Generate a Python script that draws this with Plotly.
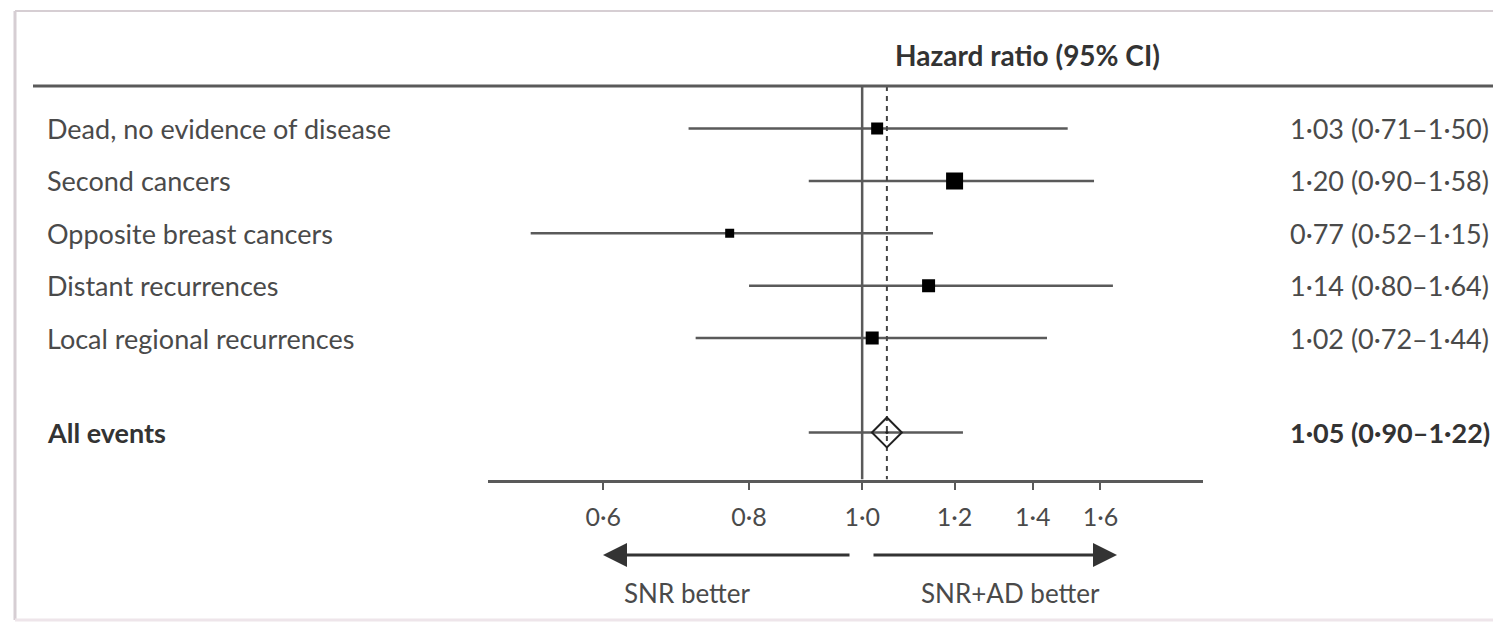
import math
import plotly.graph_objects as go

# --- datos del forest plot ---
outcomes = ["Dead, no evidence of disease", "Second cancers", "Opposite breast cancers",
            "Distant recurrences", "Local regional recurrences"]
hr = [1.03, 1.20, 0.77, 1.14, 1.02]
ci_low = [0.71, 0.90, 0.52, 0.80, 0.72]
ci_high = [1.50, 1.58, 1.15, 1.64, 1.44]
box_size = [12, 17, 9, 13, 13]

overall_label = "All events"
overall_hr = 1.05
overall_low = 0.90
overall_high = 1.22

tick_vals = [0.6, 0.8, 1.0, 1.2, 1.4, 1.6]
tick_text = ["0·6", "0·8", "1·0", "1·2", "1·4", "1·6"]

W, H = 1493, 626
FONT = "Lato"
TXT = "#4a4a4a"
LINE = "#5a5a5a"

row_y = [0, 1, 2, 3, 4]
overall_y = 5.8
y_top, y_bottom = -0.811, 6.698


def fmt(v):
    return f"{v:.2f}".replace(".", "·")


def px(x):
    return x / W


def py(y):
    return 1 - y / H


fig = go.Figure()

# --- intervalos de confianza ---
seg_x, seg_y = [], []
for lo, hi, y in zip(ci_low + [overall_low], ci_high + [overall_high], row_y + [overall_y]):
    seg_x += [lo, hi, None]
    seg_y += [y, y, None]
fig.add_trace(go.Scatter(x=seg_x, y=seg_y, mode="lines",
                         line=dict(color=LINE, width=2.5), hoverinfo="skip", showlegend=False))

# --- líneas de referencia (1 y HR global) ---
fig.add_trace(go.Scatter(x=[1, 1], y=[y_top, y_bottom], mode="lines",
                         line=dict(color=LINE, width=2.5), cliponaxis=False,
                         hoverinfo="skip", showlegend=False))
fig.add_trace(go.Scatter(x=[overall_hr, overall_hr], y=[y_top, y_bottom], mode="lines",
                         line=dict(color="#444", width=2, dash="5px,5px"), cliponaxis=False,
                         hoverinfo="skip", showlegend=False))

# --- puntos ---
fig.add_trace(go.Scatter(x=hr, y=row_y, mode="markers",
                         marker=dict(symbol="square", size=box_size, color="#000", opacity=1,
                                     line=dict(width=0)),
                         showlegend=False))
fig.add_trace(go.Scatter(x=[overall_hr], y=[overall_y], mode="markers",
                         marker=dict(symbol="diamond-open-dot", size=23, color="#222", line=dict(width=2)),
                         showlegend=False))

annotations = []


def label(x, y, text, size, color=TXT, xanchor="center", yref="paper"):
    annotations.append(dict(x=x, y=y, xref="paper", yref=yref, xanchor=xanchor, yanchor="middle",
                            text=text, showarrow=False, font=dict(family=FONT, size=size, color=color)))


for name, y in zip(outcomes + [overall_label], row_y + [overall_y]):
    bold = name == overall_label
    label(px(45), y, f"<b>{name}</b>" if bold else name, 27, "#333" if bold else TXT, "left", "y")

labels = [f"{fmt(h)} ({fmt(l)}–{fmt(u)})" for h, l, u in zip(hr, ci_low, ci_high)]
overall_text = f"<b>{fmt(overall_hr)} ({fmt(overall_low)}–{fmt(overall_high)})</b>"
for lab, y in zip(labels + [overall_text], row_y + [overall_y]):
    label(px(1288), y, lab, 27, "#333" if "<b>" in lab else TXT, "left", "y")

label(px(1027), py(55), "<b>Hazard ratio (95% CI)</b>", 28, "#333")

# --- flechas ---
annotations.append(dict(x=px(603), y=py(555), xref="paper", yref="paper", ax=248, ay=0, text="",
                        showarrow=True, arrowhead=2, arrowsize=1.6, arrowwidth=3, arrowcolor="#333"))
annotations.append(dict(x=px(1117), y=py(555), xref="paper", yref="paper", ax=-245, ay=0, text="",
                        showarrow=True, arrowhead=2, arrowsize=1.6, arrowwidth=3, arrowcolor="#333"))
label(px(687), py(593), "SNR better", 26)
label(px(1010), py(593), "SNR+AD better", 26)

shapes = [
    # regla superior
    dict(type="line", xref="paper", yref="paper", x0=px(33), x1=1, y0=py(86), y1=py(86),
         line=dict(color=LINE, width=3)),
    # marco
    dict(type="line", xref="paper", yref="paper", x0=px(15), x1=px(15), y0=py(11), y1=py(620),
         line=dict(color="#d6ced3", width=3)),
    dict(type="line", xref="paper", yref="paper", x0=px(15), x1=1, y0=py(11), y1=py(11),
         line=dict(color="#d6ced3", width=2)),
    dict(type="line", xref="paper", yref="paper", x0=px(15), x1=1, y0=py(620), y1=py(620),
         line=dict(color="#eee5ea", width=3)),
]

fig.update_layout(
    width=W, height=H,
    margin=dict(l=0, r=0, t=0, b=0),
    paper_bgcolor="white", plot_bgcolor="white",
    showlegend=False,
    annotations=annotations,
    shapes=shapes,
    xaxis=dict(type="log", domain=[px(488), px(1202.5)], range=[math.log10(0.478), math.log10(1.957)],
               showgrid=False, zeroline=False, showline=True, linecolor=LINE, linewidth=2.5,
               ticks="outside", ticklen=8, tickwidth=2, tickcolor=LINE,
               tickvals=tick_vals, ticktext=tick_text, ticklabelstandoff=6,
               tickfont=dict(family=FONT, size=25, color=TXT)),
    yaxis=dict(domain=[py(479.5), py(86)], range=[y_bottom, y_top], visible=False),
)

fig.write_html("out.html", config={"displayModeBar": False},
               post_script="document.body.style.margin='0';")
